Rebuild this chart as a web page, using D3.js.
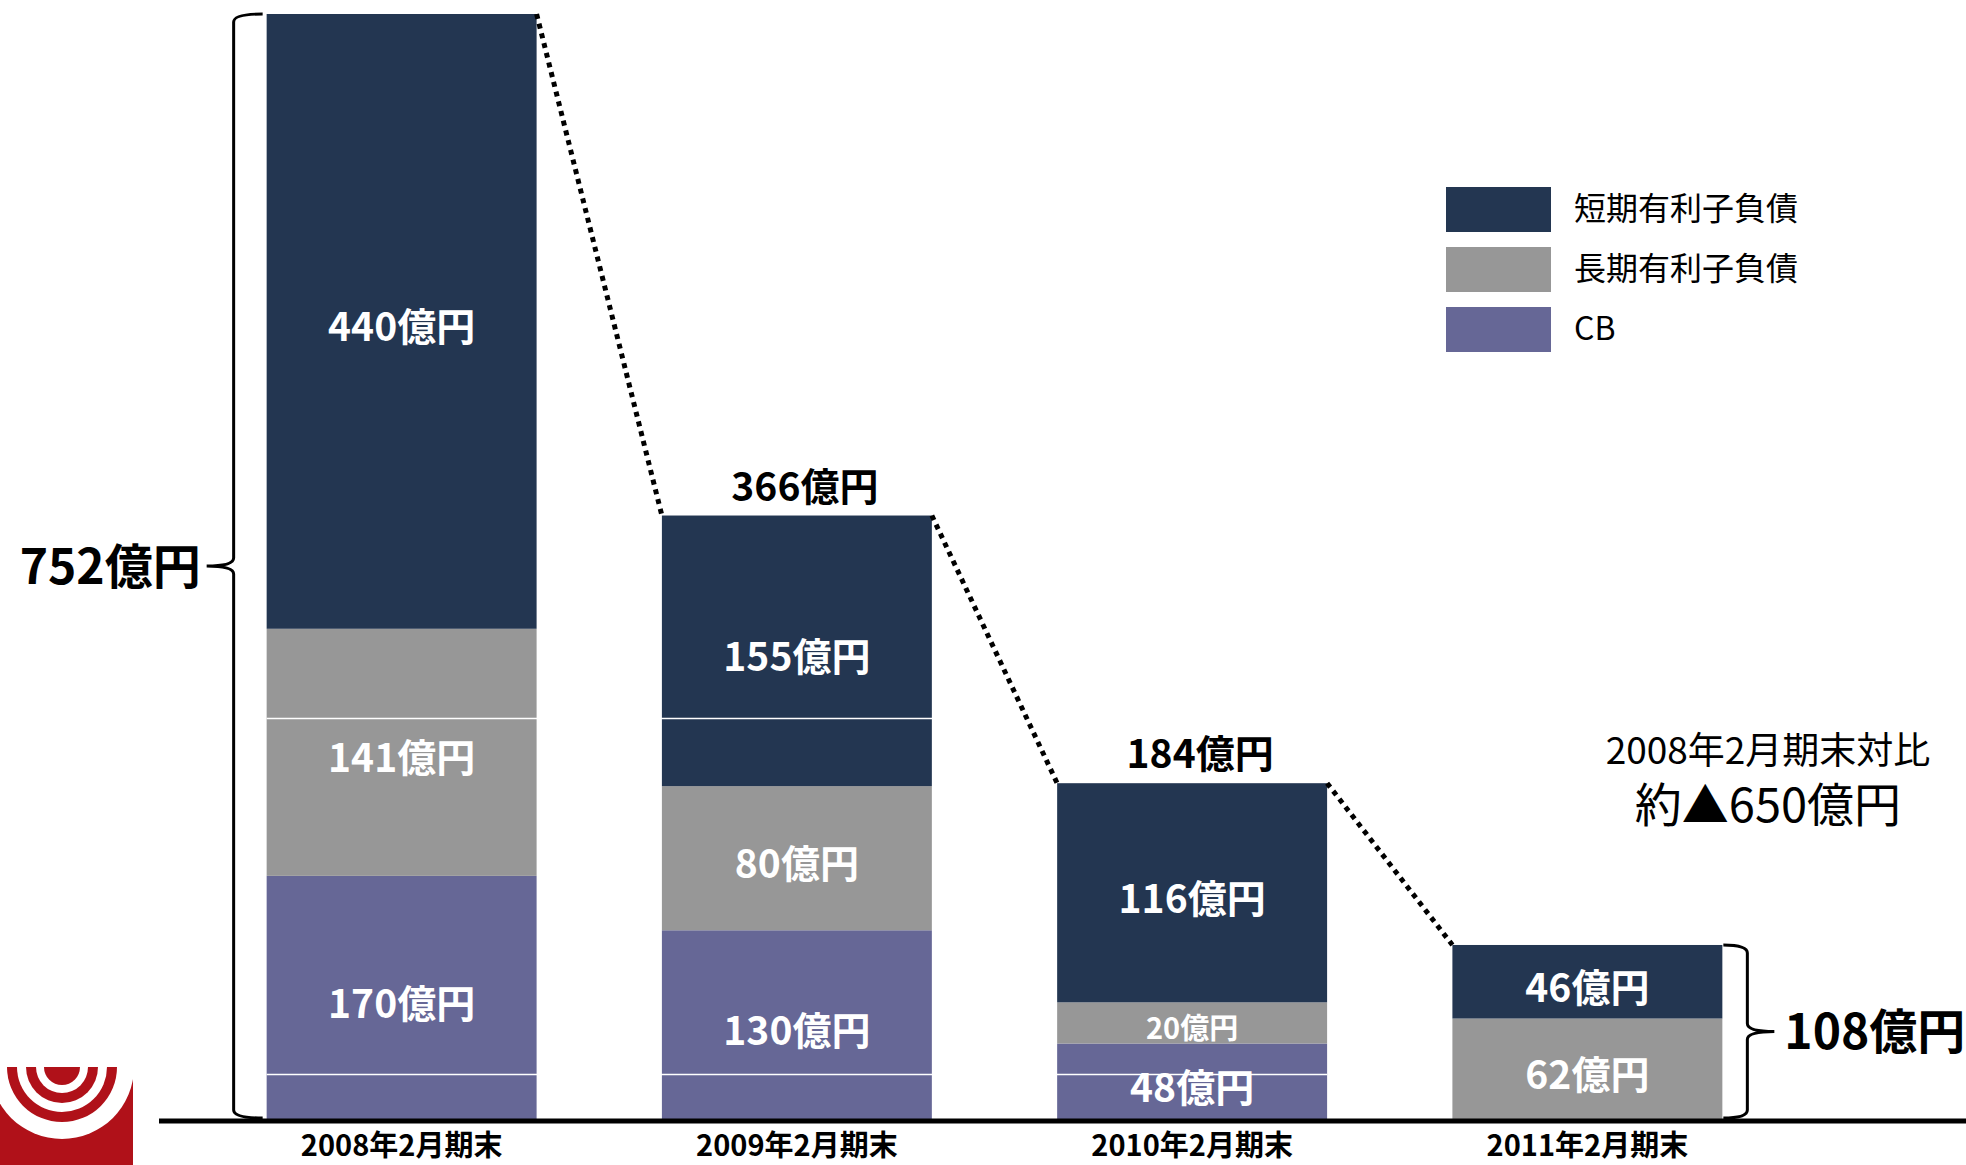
<!DOCTYPE html>
<html lang="ja">
<head>
<meta charset="utf-8">
<script src="https://cdn.jsdelivr.net/npm/d3@7"></script>
<style>
  body { margin: 0; background: #ffffff; }
  svg { display: block; font-family: "Noto Sans CJK JP", "Noto Sans", sans-serif; }
</style>
</head>
<body>
<script>
"use strict";
// categories
const periods = ["2008年2月期末", "2009年2月期末", "2010年2月期末", "2011年2月期末"]
const seriesNames = ["短期有利子負債", "長期有利子負債", "CB"]
// amounts printed on the slide (億円)
const shortTerm = [440, 155, 116, 46]
const longTerm = [141, 80, 20, 62]
const cbBonds = [170, 130, 48, 0]
const totals = [752, 366, 184, 108]
// the slide is not drawn to scale, so the heights as drawn are kept apart (same 億円 units)
const shortDrawn = [418, 184, 149, 50]
const longDrawn = [168, 98, 28, 69]
const cbDrawn = [166, 129, 52, 0]
// two thin white rules that cut across the first bars
const whiteRules = [31, 273]
const compareNote = ["2008年2月期末対比", "約▲650億円"]

;(function(){
    const measurements = {
        width: 1966,
        height: 1165,
        baseY: 1120,
        topY: 14
    }
    const colors = {
        short: "#233651",
        long: "#979797",
        cb: "#666796"
    }

    const svg = d3.select("body").append("svg")
        .attr("width", measurements.width)
        .attr("height", measurements.height)

    const rows = periods.map((p, i) => ({
        period: p,
        cb: cbDrawn[i], long: longDrawn[i], short: shortDrawn[i],
        cbLabel: cbBonds[i], longLabel: longTerm[i], shortLabel: shortTerm[i]
    }))

    const scaleX = d3.scaleBand()
        .domain(periods)
        .range([204, 1785])
        .paddingInner(0.317)
        .paddingOuter(0.1585)
    const scaleY = d3.scaleLinear()
        .domain([0, d3.sum([shortDrawn[0], longDrawn[0], cbDrawn[0]])])
        .range([measurements.baseY, measurements.topY])

    const keys = ["cb", "long", "short"]
    const stacked = d3.stack().keys(keys)(rows)

    drawLogo()
    drawBars()
    drawRules()
    drawConnectors()
    drawAxis()
    drawBraces()
    drawLegend()
    drawNote()

    //stacked bars with the printed amounts in the middle of each piece
    function drawBars() {
        const layers = svg.selectAll(".layer")
            .data(stacked)
            .enter().append("g")
            .attr("class", "layer")
            .attr("fill", d => colors[d.key])
        layers.selectAll("rect")
            .data(d => d.map(s => Object.assign(s, {key: d.key})))
            .enter().append("rect")
            .attr("x", d => scaleX(d.data.period))
            .attr("y", d => scaleY(d[1]))
            .attr("width", scaleX.bandwidth())
            .attr("height", d => scaleY(d[0]) - scaleY(d[1]))

        const pieces = stacked.flatMap(layer => layer.filter(s => s[1] > s[0]))
        svg.selectAll(".seg-label")
            .data(pieces)
            .enter().append("text")
            .attr("class", "seg-label")
            .attr("x", d => scaleX(d.data.period) + scaleX.bandwidth() / 2)
            .attr("y", d => (scaleY(d[0]) + scaleY(d[1])) / 2 + 3)
            .attr("text-anchor", "middle")
            .attr("dominant-baseline", "central")
            .attr("fill", "#ffffff")
            .attr("font-weight", "bold")
            .attr("font-size", d => (scaleY(d[0]) - scaleY(d[1]) < 50 ? 29 : 39) + "px")
            .text(d => d.data[d.key + "Label"] + "億円")

        //totals above the middle bars
        svg.selectAll(".total")
            .data(rows.slice(1, 3))
            .enter().append("text")
            .attr("class", "total")
            .attr("x", d => scaleX(d.period) + scaleX.bandwidth() / 2 + 8)
            .attr("y", d => scaleY(d.cb + d.long + d.short) - 32)
            .attr("text-anchor", "middle")
            .attr("dominant-baseline", "central")
            .attr("font-weight", "bold")
            .attr("font-size", "39px")
            .text((d, i) => totals[i + 1] + "億円")
    }

    function drawRules() {
        const x0 = scaleX(periods[0])
        const x1 = scaleX(periods[2]) + scaleX.bandwidth()
        svg.selectAll(".rule")
            .data(whiteRules)
            .enter().append("line")
            .attr("x1", x0).attr("x2", x1)
            .attr("y1", d => scaleY(d)).attr("y2", d => scaleY(d))
            .attr("stroke", "#ffffff")
            .attr("stroke-width", 1.5)
    }

    //dotted lines joining the tops of neighbouring bars
    function drawConnectors() {
        const tops = rows.map(d => d.cb + d.long + d.short)
        const pairs = d3.pairs(rows.map((d, i) => ({period: d.period, top: tops[i]})))
        svg.selectAll(".connector")
            .data(pairs)
            .enter().append("line")
            .attr("x1", d => scaleX(d[0].period) + scaleX.bandwidth())
            .attr("y1", d => scaleY(d[0].top))
            .attr("x2", d => scaleX(d[1].period))
            .attr("y2", d => scaleY(d[1].top))
            .attr("stroke", "#000000")
            .attr("stroke-width", 5)
            .attr("stroke-dasharray", "5 5")
    }

    function drawAxis() {
        svg.append("line")
            .attr("x1", 159).attr("x2", measurements.width)
            .attr("y1", measurements.baseY + 1).attr("y2", measurements.baseY + 1)
            .attr("stroke", "#000000")
            .attr("stroke-width", 5)
        const axis = svg.append("g")
            .attr("transform", `translate(0,${measurements.baseY + 1})`)
            .call(d3.axisBottom(scaleX).tickSize(0))
        axis.select(".domain").remove()
        axis.selectAll("text")
            .attr("y", 25)
            .attr("dy", "0.35em")
            .attr("fill", "#000000")
            .style("font-family", "\"Noto Sans CJK JP\", sans-serif")
            .style("font-size", "29px")
            .style("font-weight", "bold")
    }

    //curly brace: ends at xEnd, spine at xMid, point at xTip
    function bracePath(xEnd, xMid, xTip, y0, y1) {
        const ym = (y0 + y1) / 2
        const r = 8
        return `M${xEnd},${y0} Q${xMid},${y0} ${xMid},${y0 + r} L${xMid},${ym - r}` +
            ` Q${xMid},${ym} ${xTip},${ym} Q${xMid},${ym} ${xMid},${ym + r}` +
            ` L${xMid},${y1 - r} Q${xMid},${y1} ${xEnd},${y1}`
    }

    function drawBraces() {
        const first = rows[0], last = rows[rows.length - 1]
        const left = scaleX(first.period)
        const right = scaleX(last.period) + scaleX.bandwidth()
        const y0 = scaleY(first.cb + first.long + first.short)
        const y1 = scaleY(last.cb + last.long + last.short)
        svg.append("path")
            .attr("d", bracePath(left - 4, left - 33, left - 60, y0, measurements.baseY - 2))
            .attr("fill", "none").attr("stroke", "#000000").attr("stroke-width", 3)
        svg.append("path")
            .attr("d", bracePath(right + 1, right + 25, right + 52, y1, measurements.baseY - 2))
            .attr("fill", "none").attr("stroke", "#000000").attr("stroke-width", 3)

        svg.append("text")
            .attr("x", left - 66)
            .attr("y", (y0 + measurements.baseY) / 2 - 4)
            .attr("text-anchor", "end")
            .attr("dominant-baseline", "central")
            .attr("font-weight", "bold")
            .attr("font-size", "48px")
            .text(totals[0] + "億円")
        svg.append("text")
            .attr("x", right + 62)
            .attr("y", (y1 + measurements.baseY) / 2 - 4)
            .attr("dominant-baseline", "central")
            .attr("font-weight", "bold")
            .attr("font-size", "48px")
            .text(totals[3] + "億円")
    }

    function drawLegend() {
        const legend = svg.append("g")
            .attr("transform", "translate(1446,187)")
        const item = legend.selectAll(".item")
            .data(seriesNames)
            .enter().append("g")
            .attr("transform", (d, i) => `translate(0,${i * 60})`)
        item.append("rect")
            .attr("width", 105)
            .attr("height", 45)
            .attr("fill", (d, i) => colors[["short", "long", "cb"][i]])
        item.append("text")
            .attr("x", 128)
            .attr("y", 19)
            .attr("dominant-baseline", "central")
            .attr("font-size", "32px")
            .text(d => d)
    }

    function drawNote() {
        svg.append("text")
            .attr("x", 1768).attr("y", 748)
            .attr("text-anchor", "middle")
            .attr("dominant-baseline", "central")
            .attr("font-size", "37px")
            .text(compareNote[0])
        svg.append("text")
            .attr("x", 1768).attr("y", 801)
            .attr("text-anchor", "middle")
            .attr("dominant-baseline", "central")
            .attr("font-size", "47px")
            .text(compareNote[1])
    }

    //company mark in the lower left corner, partly cut off by the page edge
    function drawLogo() {
        svg.append("clipPath").attr("id", "logo-clip")
            .append("rect").attr("x", 0).attr("y", 1067).attr("width", 133).attr("height", 98)
        const g = svg.append("g").attr("clip-path", "url(#logo-clip)")
        g.append("rect").attr("x", 0).attr("y", 1067).attr("width", 133).attr("height", 98)
            .attr("fill", "#b01119")
        const rings = [72, 55, 45, 36, 26, 18]
        g.selectAll("circle")
            .data(rings)
            .enter().append("circle")
            .attr("cx", 62).attr("cy", 1067)
            .attr("r", d => d)
            .attr("fill", (d, i) => i % 2 === 0 ? "#ffffff" : "#b01119")
    }
})()
</script>
</body>
</html>
